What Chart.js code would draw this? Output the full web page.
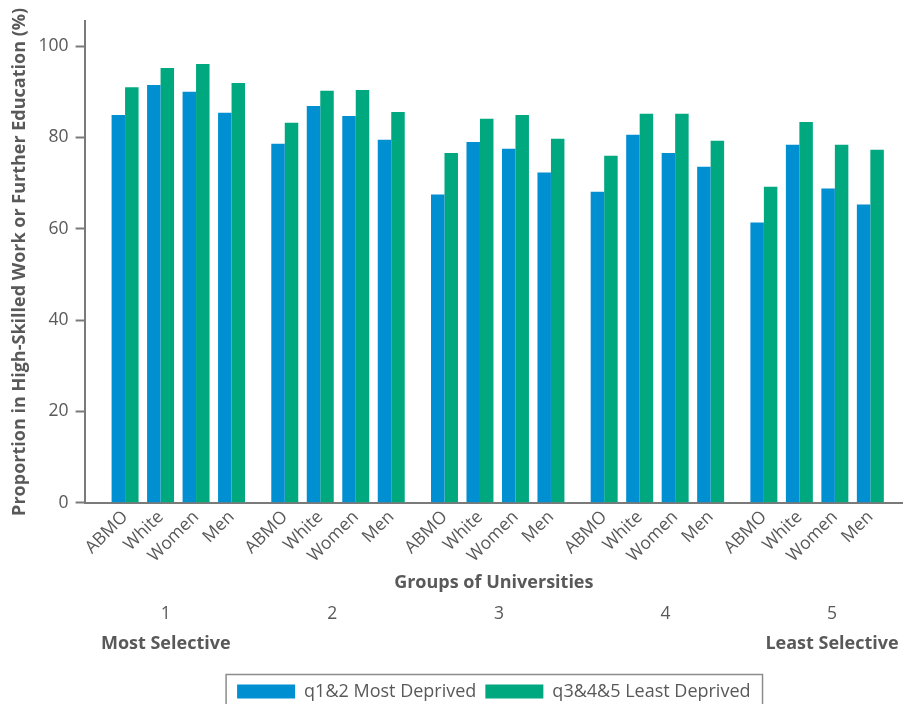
<!DOCTYPE html>
<html>
<head>
<meta charset="utf-8">
<title>High-skilled work by university group</title>
<script src="https://cdn.jsdelivr.net/npm/chart.js@4/dist/chart.umd.min.js"></script>
<style>
    html, body { margin: 0; padding: 0; background: #fff; }
    #wrap { width: 903px; height: 704px; overflow: hidden; }
</style>
</head>
<body>
<div id="wrap"><canvas id="chart" width="903" height="704"></canvas></div>
<script>
// Data
const groupNumbers = ['1', '2', '3', '4', '5'];
const selectivity = ['Most Selective', 'Least Selective'];
const categories = ['ABMO', 'White', 'Women', 'Men'];
const seriesNames = ['q1&2 Most Deprived', 'q3&4&5 Least Deprived'];

// one row per group of universities, in category order
const mostDeprived = [
    [84.9, 91.5, 90.0, 85.4],
    [78.6, 86.9, 84.7, 79.5],
    [67.5, 79.0, 77.5, 72.3],
    [68.1, 80.6, 76.6, 73.6],
    [61.4, 78.4, 68.8, 65.3]
];
const leastDeprived = [
    [91.0, 95.2, 96.1, 91.9],
    [83.2, 90.2, 90.4, 85.6],
    [76.6, 84.1, 84.9, 79.7],
    [76.0, 85.2, 85.2, 79.3],
    [69.2, 83.4, 78.4, 77.3]
];
const yTicks = [0, 20, 40, 60, 80, 100];

const BLUE = '#008fd1';
const GREEN = '#00a87f';
const TEXT = '#595959';
const AXIS = '#7a7a7a';
const FONT = '"Open Sans", Roboto, sans-serif';

// slot index on the x axis: categories sit one apart, groups get an extra half slot
const GROUP_STEP = categories.length + 0.5;
const slots = [];
const slotLabels = [];
groupNumbers.forEach((g, gi) => {
    categories.forEach((c, ci) => {
        slots.push(gi * GROUP_STEP + ci);
        slotLabels.push(c);
    });
});

function toPoints(rows) {
    const pts = [];
    rows.forEach((row, gi) => {
        row.forEach((v, ci) => pts.push({ x: gi * GROUP_STEP + ci, y: v }));
    });
    return pts;
}

// box round the legend, as in the original
const legendFrame = {
    id: 'legendFrame',
    afterDraw(chart) {
        const boxes = chart.legend && chart.legend.legendHitBoxes;
        if (!boxes || !boxes.length) return;
        const left = Math.min(...boxes.map(b => b.left)) - 11;
        const right = Math.max(...boxes.map(b => b.left + b.width)) + 12;
        const top = Math.min(...boxes.map(b => b.top)) - 8;
        const ctx = chart.ctx;
        ctx.save();
        ctx.strokeStyle = '#8c8c8c';
        ctx.lineWidth = 1.5;
        ctx.strokeRect(left, top, right - left, 80);
        ctx.restore();
    }
};

const lastSlot = slots[slots.length - 1];
const groupAxis = {
    type: 'linear',
    position: 'bottom',
    offset: false,
    bounds: 'data',
    min: 0.513,
    max: 5.426,
    grid: { display: false, drawTicks: false },
    border: { display: false }
};

new Chart(document.getElementById('chart'), {
    type: 'bar',
    data: {
        datasets: [
            { label: seriesNames[0], data: toPoints(mostDeprived), backgroundColor: BLUE, xAxisID: 'x' },
            { label: seriesNames[1], data: toPoints(leastDeprived), backgroundColor: GREEN, xAxisID: 'x' }
        ]
    },
    options: {
        responsive: false,
        animation: false,
        categoryPercentage: 0.76,
        barPercentage: 1.0,
        layout: { padding: { left: 9, right: 0, top: 21, bottom: -6.5 } },
        plugins: {
            tooltip: { enabled: false },
            legend: {
                position: 'bottom',
                fullSize: false,
                // empty title only opens a gap above the legend row
                title: { display: true, text: '', font: { size: 2 }, padding: { top: 16.4, bottom: 0 } },
                labels: {
                    color: TEXT,
                    font: { family: FONT, size: 18 },
                    boxWidth: 58,
                    boxHeight: 14,
                    padding: 9
                }
            }
        },
        scales: {
            x: {
                type: 'linear',
                offset: false,
                bounds: 'data',
                min: -1.14,
                max: lastSlot + 0.92,
                weight: 0,
                afterBuildTicks: axis => { axis.ticks = slots.map(v => ({ value: v })); },
                ticks: {
                    autoSkip: false,
                    minRotation: 45,
                    maxRotation: 45,
                    padding: 4,
                    color: TEXT,
                    font: { family: FONT, size: 17.5 },
                    callback: (value, index) => slotLabels[index]
                },
                grid: { display: true, offset: false, drawOnChartArea: false, drawTicks: false },
                border: { display: true, color: AXIS, width: 2 },
                title: {
                    display: true,
                    text: 'Groups of Universities',
                    color: TEXT,
                    font: { family: FONT, size: 18, weight: 'bold' },
                    padding: { top: 2, bottom: 0 }
                }
            },
            x2: Object.assign({}, groupAxis, {
                weight: 1,
                afterBuildTicks: axis => { axis.ticks = groupNumbers.map((g, i) => ({ value: i + 1 })); },
                ticks: {
                    autoSkip: false,
                    maxRotation: 0,
                    padding: 9,
                    color: TEXT,
                    font: { family: FONT, size: 17.5 },
                    callback: (value, index) => groupNumbers[index]
                }
            }),
            x3: Object.assign({}, groupAxis, {
                weight: 2,
                afterBuildTicks: axis => { axis.ticks = [{ value: 1 }, { value: groupNumbers.length }]; },
                ticks: {
                    autoSkip: false,
                    maxRotation: 0,
                    padding: 0,
                    color: TEXT,
                    font: { family: FONT, size: 18, weight: 'bold' },
                    callback: (value, index) => selectivity[index]
                }
            }),
            y: {
                min: 0,
                max: 105.5,
                afterBuildTicks: axis => { axis.ticks = yTicks.map(v => ({ value: v })); },
                ticks: {
                    color: TEXT,
                    padding: 7,
                    font: { family: FONT, size: 17.5 }
                },
                grid: {
                    drawOnChartArea: false,
                    drawTicks: true,
                    tickLength: 9,
                    tickWidth: 2,
                    tickColor: AXIS
                },
                border: { display: true, color: AXIS, width: 2 },
                title: {
                    display: true,
                    text: 'Proportion in High-Skilled Work or Further Education (%)',
                    color: TEXT,
                    font: { family: FONT, size: 18, weight: 'bold' },
                    padding: { top: 0, bottom: 1 }
                }
            }
        }
    },
    plugins: [legendFrame]
});
</script>
</body>
</html>
